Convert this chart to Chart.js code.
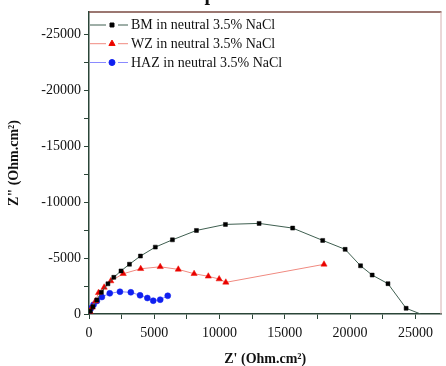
<!DOCTYPE html>
<html>
<head>
<meta charset="utf-8">
<script src="https://cdn.jsdelivr.net/npm/chart.js@4"></script>
<style>
  html, body { margin: 0; padding: 0; background: #fff; }
  #wrap { width: 446px; height: 366px; position: relative; }
</style>
</head>
<body>
<div id="wrap"><canvas id="nyquist" width="446" height="366"></canvas></div>
<script>
// Data (Z' and Z'' in Ohm.cm2)
const seriesNames = ['BM in neutral 3.5% NaCl', 'WZ in neutral 3.5% NaCl', 'HAZ in neutral 3.5% NaCl'];

const bmZre = [100, 300, 600, 950, 1450, 1900, 2450, 3100, 3940, 5080, 6390, 8230, 10450, 13030, 15600, 17900, 19620, 20800, 21690, 22900, 24290, 25400];
const bmZim = [-250, -650, -1250, -1950, -2700, -3280, -3850, -4450, -5180, -5980, -6630, -7470, -8010, -8100, -7680, -6580, -5780, -4310, -3480, -2710, -510, 0];

const wzZre = [80, 250, 500, 730, 1160, 1670, 2620, 3960, 5455, 6840, 8050, 9140, 9970, 10480, 18000];
const wzZim = [-200, -600, -1150, -1900, -2380, -2950, -3600, -4045, -4220, -3990, -3600, -3370, -3125, -2830, -4440];

const hazZre = [23, 152, 348, 606, 985, 1590, 2370, 3205, 3910, 4470, 4920, 5455, 6030];
const hazZim = [-205, -510, -830, -1160, -1520, -1850, -1990, -1940, -1670, -1430, -1190, -1280, -1630];

// major ticks carry a label, minor ones (between) only a mark
const xTickValues = [0, 2500, 5000, 7500, 10000, 12500, 15000, 17500, 20000, 22500, 25000];
const xTickLabels = ['0', '', '5000', '', '10000', '', '15000', '', '20000', '', '25000'];
const yTickValues = [0, -2500, -5000, -7500, -10000, -12500, -15000, -17500, -20000, -22500, -25000];
const yTickLabels = ['0', '', '-5000', '', '-10000', '', '-15000', '', '-20000', '', '-25000'];

const toPoints = (xs, ys) => xs.map((x, i) => ({ x: x, y: ys[i] }));

const serif = '"Liberation Serif", "DejaVu Serif", serif';
const axisColor = '#2b4538';

// Frame, in-plot legend ("— marker —  label") and the cut-off title
const frameAndLegend = {
    id: 'frameAndLegend',
    afterDraw(chart) {
        const { ctx, chartArea: a } = chart;
        ctx.save();
        ctx.lineWidth = 1.5;
        ctx.strokeStyle = '#7a4a42';
        ctx.beginPath();
        ctx.moveTo(a.left, a.top);
        ctx.lineTo(a.right, a.top);
        ctx.stroke();
        ctx.lineWidth = 1;
        ctx.strokeStyle = '#d6b0b0';
        ctx.beginPath();
        ctx.moveTo(a.right - 0.5, a.top);
        ctx.lineTo(a.right - 0.5, a.bottom);
        ctx.stroke();

        const rows = [25, 43.7, 62.5];
        chart.data.datasets.forEach((ds, i) => {
            const y = rows[i];
            ctx.strokeStyle = ds.borderColor;
            ctx.lineWidth = 1;
            ctx.beginPath();
            ctx.moveTo(90, y); ctx.lineTo(106, y);
            ctx.moveTo(118, y); ctx.lineTo(128, y);
            ctx.stroke();
            ctx.fillStyle = ds.pointBackgroundColor;
            ctx.strokeStyle = ds.pointBorderColor;
            Chart.helpers.drawPoint(ctx, {
                pointStyle: ds.pointStyle,
                radius: ds.legendRadius,
                rotation: 0,
                borderWidth: 0.5
            }, 112, y);
            ctx.fillStyle = '#111';
            ctx.font = '14px ' + serif;
            ctx.textBaseline = 'middle';
            ctx.textAlign = 'left';
            ctx.fillText(seriesNames[i], 131, y + 0.5);
        });

        ctx.fillStyle = '#111';
        ctx.font = 'bold 20px ' + serif;
        ctx.textAlign = 'center';
        ctx.textBaseline = 'alphabetic';
        ctx.fillText('p', 210, 0);
        ctx.restore();
    }
};

const ctx = document.getElementById('nyquist').getContext('2d');

new Chart(ctx, {
    type: 'scatter',
    data: {
        datasets: [
            {
                label: seriesNames[0],
                data: toPoints(bmZre, bmZim),
                showLine: true,
                borderColor: '#3f5f50',
                borderWidth: 1,
                pointStyle: 'rect',
                pointRadius: (c) => c.dataIndex === bmZre.length - 1 ? 0 : 2.8,
                legendRadius: 2.8,
                pointBackgroundColor: '#000',
                pointBorderColor: '#000',
                pointBorderWidth: 0.5
            },
            {
                label: seriesNames[1],
                data: toPoints(wzZre, wzZim),
                showLine: true,
                borderColor: '#f08a80',
                borderWidth: 1,
                pointStyle: 'triangle',
                pointRadius: 3.6,
                legendRadius: 3.6,
                pointBackgroundColor: '#e80000',
                pointBorderColor: '#f01000',
                pointBorderWidth: 0.5
            },
            {
                label: seriesNames[2],
                data: toPoints(hazZre, hazZim),
                showLine: true,
                borderColor: '#8a8aff',
                borderWidth: 1,
                pointStyle: 'circle',
                pointRadius: 3,
                legendRadius: 3,
                pointBackgroundColor: '#1020f0',
                pointBorderColor: '#1020f0',
                pointBorderWidth: 0.5
            }
        ]
    },
    options: {
        responsive: false,
        animation: false,
        layout: { padding: { top: 12, right: 1, left: 0, bottom: 0 } },
        plugins: {
            legend: { display: false },
            tooltip: { enabled: false }
        },
        scales: {
            x: {
                type: 'linear',
                min: 0,
                max: 27000,
                afterFit: (s) => { s.height = 52; },
                afterBuildTicks: (s) => { s.ticks = xTickValues.map(v => ({ value: v })); },
                ticks: {
                    autoSkip: false,
                    maxRotation: 0,
                    padding: 6,
                    color: '#111',
                    font: { family: serif, size: 14 },
                    callback: (v, i) => xTickLabels[i]
                },
                grid: { drawOnChartArea: false, drawTicks: true, tickLength: 5, color: axisColor },
                border: { display: true, color: axisColor, width: 1.5 },
                title: {
                    display: true,
                    text: "Z' (Ohm.cm²)",
                    color: '#111',
                    font: { family: serif, size: 14, weight: 'bold' },
                    padding: { top: 0, bottom: -1.5 }
                }
            },
            y: {
                type: 'linear',
                reverse: true,
                min: -27000,
                max: 0,
                afterFit: (s) => { s.width = 89; },
                afterBuildTicks: (s) => { s.ticks = yTickValues.map(v => ({ value: v })); },
                ticks: {
                    autoSkip: false,
                    padding: 3,
                    color: '#111',
                    font: { family: serif, size: 14 },
                    callback: (v, i) => yTickLabels[i]
                },
                grid: { drawOnChartArea: false, drawTicks: true, tickLength: 5, color: axisColor },
                border: { display: true, color: axisColor, width: 1.5 },
                title: {
                    display: true,
                    text: 'Z" (Ohm.cm²)',
                    color: '#111',
                    font: { family: serif, size: 14, weight: 'bold' },
                    padding: { top: 6, bottom: 0 }
                }
            }
        }
    },
    plugins: [frameAndLegend]
});
</script>
</body>
</html>
